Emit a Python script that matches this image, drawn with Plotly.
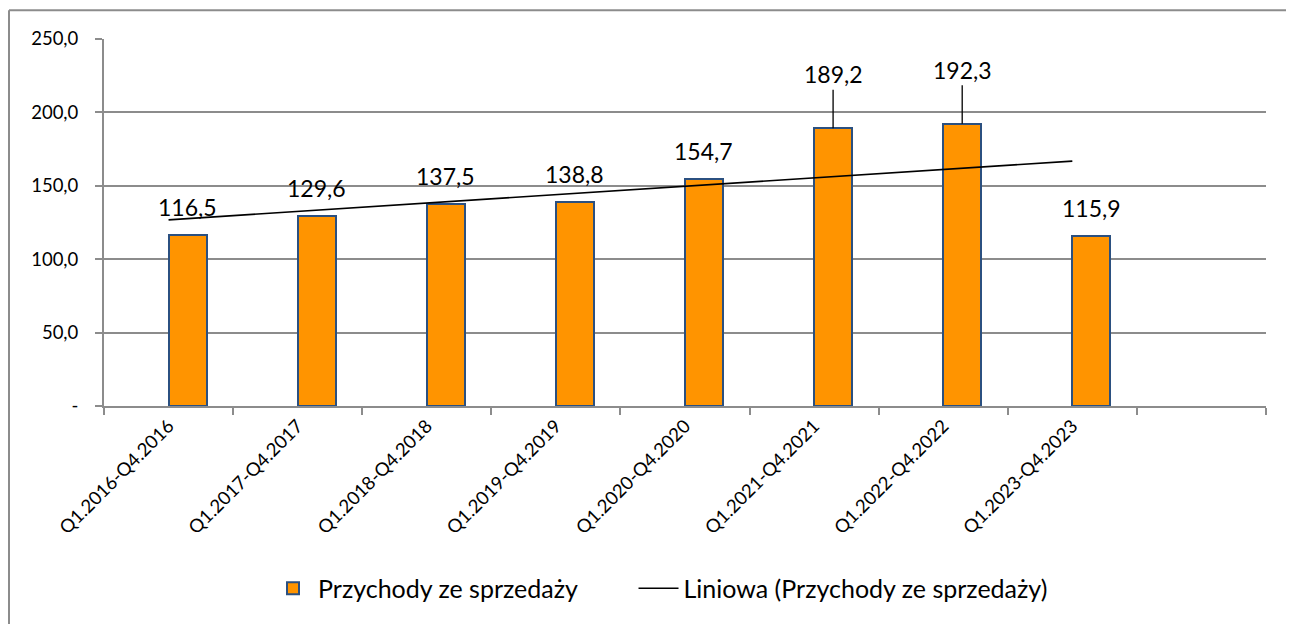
import numpy as np
import plotly.graph_objects as go

categories = ["Q1.2016-Q4.2016", "Q1.2017-Q4.2017", "Q1.2018-Q4.2018", "Q1.2019-Q4.2019",
              "Q1.2020-Q4.2020", "Q1.2021-Q4.2021", "Q1.2022-Q4.2022", "Q1.2023-Q4.2023"]
all_slots = categories + [" "]
values = [116.5, 129.6, 137.5, 138.8, 154.7, 189.2, 192.3, 115.9]
label_texts = ["116,5", "129,6", "137,5", "138,8", "154,7", "189,2", "192,3", "115,9"]
raised = [False, False, False, False, False, True, True, False]
ytick_vals = [0, 50, 100, 150, 200, 250]
ytick_text = ["-", "50,0", "100,0", "150,0", "200,0", "250,0"]

OFF = 8  # page body margin
W, H = 1294 - OFF, 624 - OFF
# plot area in page pixels: x 104..1266, y 39..409
L = 104 - OFF
T = 39 - OFF
R = W - (1266 - OFF)
B = H - (409 - OFF)
pw, ph = W - L - R, H - T - B

FONT = "Lato, 'Open Sans', sans-serif"
BAR_W = 0.294

xs = np.arange(1, len(values) + 1)
slope, intercept = np.polyfit(xs, values, 1)
trend = slope * xs + intercept

fig = go.Figure()
fig.add_trace(go.Bar(
    x=categories, y=values, name="Przychody ze sprzedaży" + "\u00a0" * 8,
    width=BAR_W, offset=0,
    marker=dict(color="#FF9400", line=dict(color="#2B5080", width=2)),
))
fig.add_trace(go.Scatter(
    x=categories, y=trend, mode="lines", name="Liniowa (Przychody ze sprzedaży)",
    line=dict(color="black", width=1.6),
))

for i, (v, t, r) in enumerate(zip(values, label_texts, raised)):
    if r:
        fig.add_annotation(x=i + BAR_W / 2, y=v, text=t, showarrow=True, arrowhead=0,
                           arrowwidth=1.3, arrowcolor="black", ax=0, ay=-54,
                           standoff=0, font=dict(size=23, color="black", family=FONT))
    else:
        fig.add_annotation(x=i + BAR_W / 2, y=v, text=t, showarrow=False,
                           yanchor="bottom", yshift=12,
                           font=dict(size=23, color="black", family=FONT))

def px2x(px):
    return (px - OFF - L) / pw

def px2y(py):
    return (H - B - (py - OFF)) / ph

border = dict(type="line", xref="paper", yref="paper", line=dict(color="#8C8C8C", width=2))
fig.add_shape(x0=px2x(9), x1=px2x(9), y0=px2y(10), y1=px2y(640), **border)
fig.add_shape(x0=px2x(9), x1=px2x(1293), y0=px2y(10), y1=px2y(10), **border)
fig.add_shape(x0=px2x(1292.5), x1=px2x(1292.5), y0=px2y(10), y1=px2y(640),
              type="line", xref="paper", yref="paper", line=dict(color="#D0D0D0", width=1.5))

fig.update_layout(
    width=W, height=H,
    margin=dict(l=L, r=R, t=T, b=B),
    paper_bgcolor="white", plot_bgcolor="white",
    font=dict(family=FONT, color="black", size=18),
    showlegend=True,
    legend=dict(orientation="h", x=px2x(268), xanchor="left", y=px2y(593), yanchor="middle",
                font=dict(size=25, family=FONT), itemwidth=40,
                tracegroupgap=0, bgcolor="rgba(0,0,0,0)"),
    xaxis=dict(type="category", categoryorder="array", categoryarray=all_slots,
               range=[-0.5, 8.5], tickson="boundaries", ticks="outside", ticklen=7,
               tickcolor="#8C8C8C", tickwidth=2, showline=True, linecolor="#8C8C8C", linewidth=2,
               showgrid=False, tickangle=-45, tickfont=dict(size=18.5, family=FONT)),
    yaxis=dict(range=[0, 250], tickvals=ytick_vals, ticktext=ytick_text,
               ticks="outside", ticklen=7, tickcolor="#8C8C8C", tickwidth=2,
               showline=True, linecolor="#8C8C8C", linewidth=2,
               showgrid=True, gridcolor="#8C8C8C", gridwidth=2, zeroline=False,
               tickfont=dict(size=18.5, family=FONT), ticklabelstandoff=13),
    bargap=0,
)

fig.write_html("out.html")
